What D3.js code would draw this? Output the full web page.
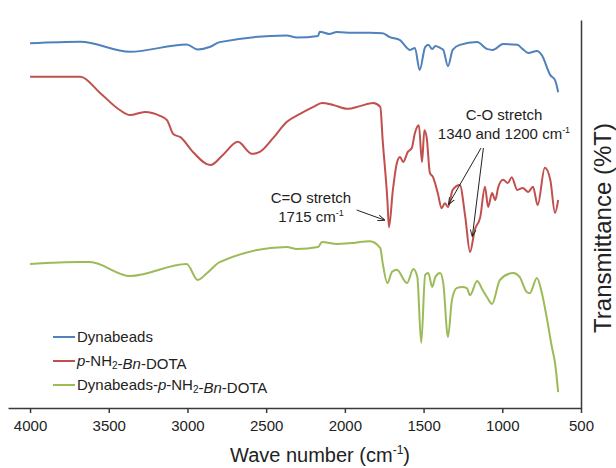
<!DOCTYPE html>
<html>
<head>
<meta charset="utf-8">
<script src="https://cdn.jsdelivr.net/npm/d3@7"></script>
<style>
  body { margin: 0; background: #fff; }
  text { font-family: "Liberation Sans", Arial, sans-serif; fill: #222; }
</style>
</head>
<body>
<script>
// wave number (cm-1) and transmittance (arbitrary %T, traces offset)
let blueWn = [4000, 3680, 3365, 3005, 2935, 2855, 2795, 2370, 2305, 2170, 2160, 2100, 2050, 1950, 1840, 1760, 1715, 1650, 1585, 1555, 1525, 1490, 1470, 1445, 1425, 1395, 1375, 1345, 1315, 1270, 1160, 1095, 1060, 995, 905, 870, 835, 780, 750, 695, 665, 645];
let blueT = [94.0, 94.4, 91.8, 93.7, 92.4, 93.1, 94.3, 96.0, 95.5, 95.9, 97.0, 96.4, 96.9, 96.7, 96.7, 96.6, 95.6, 94.8, 92.3, 92.8, 87.1, 93.0, 93.6, 92.5, 93.3, 92.8, 92.3, 88.1, 92.3, 93.6, 94.3, 92.5, 92.3, 93.8, 93.6, 92.5, 91.5, 92.0, 91.0, 85.8, 84.5, 81.4];

let redWn = [4000, 3680, 3555, 3430, 3365, 3270, 3175, 3130, 3090, 3045, 2965, 2855, 2775, 2680, 2590, 2540, 2455, 2370, 2285, 2200, 2145, 2075, 1980, 1905, 1820, 1775, 1760, 1730, 1720, 1695, 1670, 1650, 1630, 1600, 1575, 1555, 1530, 1510, 1495, 1480, 1460, 1440, 1410, 1385, 1365, 1345, 1315, 1270, 1235, 1205, 1175, 1140, 1110, 1090, 1065, 1045, 1025, 995, 965, 940, 905, 870, 835, 805, 775, 730, 695, 665, 645];
let redT = [85.4, 85.4, 81.2, 76.8, 75.5, 76.3, 75.3, 74.2, 70.6, 69.8, 66.0, 62.6, 65.2, 68.6, 65.5, 66.0, 69.6, 73.7, 75.8, 77.6, 78.6, 78.1, 77.1, 77.8, 78.6, 77.6, 69.1, 53.6, 46.6, 56.2, 63.1, 64.7, 63.4, 66.0, 67.0, 70.9, 72.9, 63.4, 71.6, 69.6, 60.6, 59.5, 55.4, 51.5, 52.8, 51.8, 56.2, 57.5, 49.2, 40.2, 45.9, 49.2, 57.0, 51.8, 55.4, 53.6, 57.0, 58.8, 58.0, 59.5, 56.2, 56.7, 55.7, 57.0, 52.3, 61.9, 58.8, 50.3, 53.6];

let greenWn = [4000, 3680, 3620, 3365, 3005, 2935, 2875, 2795, 2370, 2305, 2170, 2145, 2050, 1950, 1905, 1840, 1775, 1760, 1730, 1700, 1670, 1605, 1565, 1540, 1515, 1490, 1470, 1445, 1425, 1395, 1375, 1345, 1320, 1290, 1255, 1225, 1205, 1160, 1125, 1095, 1065, 1015, 930, 890, 845, 825, 780, 750, 715, 685, 665, 645];
let greenT = [37.1, 37.6, 37.6, 34.0, 37.1, 33.0, 34.8, 37.6, 41.5, 41.0, 41.5, 42.8, 42.3, 42.5, 42.8, 43.0, 41.2, 37.4, 32.2, 35.1, 35.6, 32.2, 35.8, 33.8, 16.8, 34.3, 34.8, 31.2, 33.8, 34.8, 32.2, 18.3, 27.8, 30.9, 31.2, 30.9, 29.1, 32.7, 30.4, 28.4, 26.8, 33.0, 34.8, 33.8, 29.9, 29.6, 33.5, 29.9, 22.7, 15.7, 11.6, 4.1];

let xTicks = [4000, 3500, 3000, 2500, 2000, 1500, 1000, 500];

let seriesNames = ['Dynabeads', 'p-NH2-Bn-DOTA', 'Dynabeads-p-NH2-Bn-DOTA'];
let colors = ['#4f81bd', '#c0504d', '#9bbb59'];

let width = 616, height = 468;
let svg = d3.select('body').append('svg')
    .attr('width', width)
    .attr('height', height);

let x = d3.scaleLinear().domain([4140, 500]).range([8, 581]);
let y = d3.scaleLinear().domain([0, 100]).range([408, 20]);

let series = [
    blueWn.map((w, i) => [w, blueT[i]]),
    redWn.map((w, i) => [w, redT[i]]),
    greenWn.map((w, i) => [w, greenT[i]])
];

let line = d3.line()
    .x(d => x(d[0]))
    .y(d => y(d[1]))
    .curve(d3.curveMonotoneX);

svg.selectAll('.trace').data(series).enter().append('path')
    .attr('class', 'trace')
    .attr('d', d => line(d.slice().reverse()))
    .attr('fill', 'none')
    .attr('stroke', (d, i) => colors[i])
    .attr('stroke-width', 2)
    .attr('stroke-linejoin', 'round');

// axes
let xAxis = svg.append('g')
    .attr('transform', 'translate(0,' + y(0) + ')')
    .call(d3.axisBottom(x).tickValues(xTicks).tickFormat(d3.format('d'))
        .tickSize(5).tickSizeOuter(0).tickPadding(7));
xAxis.select('.domain').attr('stroke', '#3a3a3a').attr('stroke-width', 1.5);
xAxis.selectAll('.tick line').attr('stroke', '#3a3a3a').attr('stroke-width', 1.5);
xAxis.selectAll('.tick text')
    .style('font-family', '"Liberation Sans", Arial, sans-serif')
    .style('font-size', '15px')
    .attr('fill', '#222');

let yAxis = svg.append('g')
    .attr('transform', 'translate(' + x(500) + ',0)')
    .call(d3.axisRight(y).tickValues([]).tickSizeOuter(0));
yAxis.select('.domain').attr('stroke', '#3a3a3a').attr('stroke-width', 1.5);

// axis titles
let xTitle = svg.append('text')
    .attr('x', 320).attr('y', 462)
    .attr('text-anchor', 'middle')
    .style('font-size', '20px');
xTitle.append('tspan').text('Wave number (cm');
xTitle.append('tspan').text('-1').attr('dy', -8).style('font-size', '12px');
xTitle.append('tspan').text(')').attr('dy', 8);

svg.append('text')
    .attr('transform', 'translate(611,228) rotate(-90)')
    .attr('text-anchor', 'middle')
    .style('font-size', '24px')
    .text('Transmittance (%T)');

// legend
let legend = svg.append('g').attr('transform', 'translate(53,337)');
let legRows = legend.selectAll('.leg').data(seriesNames).enter().append('g')
    .attr('transform', (d, i) => 'translate(0,' + i * 24 + ')');
legRows.append('line')
    .attr('x1', 0).attr('x2', 22)
    .attr('stroke', (d, i) => colors[i])
    .attr('stroke-width', 2);
legRows.each(function(d) {
    let t = d3.select(this).append('text')
        .attr('x', 24).attr('y', 5)
        .style('font-size', '15px');
    let parts = d.split(/(p-|NH2|Bn)/).filter(s => s);
    parts.forEach(p => {
        if (p === 'p-') {
            t.append('tspan').text('p').style('font-style', 'italic');
            t.append('tspan').text('-');
        } else if (p === 'Bn') {
            t.append('tspan').text('Bn').style('font-style', 'italic');
        } else if (p === 'NH2') {
            t.append('tspan').text('NH');
            t.append('tspan').text('2').attr('dy', 3).style('font-size', '10px');
            t.append('tspan').text('').attr('dy', -3);
        } else {
            t.append('tspan').text(p);
        }
    });
});

// annotations
let defs = svg.append('defs');
defs.append('marker')
    .attr('id', 'arr')
    .attr('viewBox', '0 0 10 10')
    .attr('refX', 9).attr('refY', 5)
    .attr('markerWidth', 7).attr('markerHeight', 7)
    .attr('orient', 'auto')
    .append('path')
    .attr('d', 'M0,1 L10,5 L0,9')
    .attr('fill', 'none')
    .attr('stroke', '#222')
    .attr('stroke-width', 1.3);

function note(lines, cx, cy) {
    let t = svg.append('text').attr('text-anchor', 'middle').style('font-size', '15px');
    lines.forEach((l, i) => {
        let ts = t.append('tspan').attr('x', cx).attr('y', cy + i * 19);
        if (l.endsWith('cm-1')) {
            ts.text(l.replace('cm-1', 'cm'));
            t.append('tspan').text('-1').attr('dy', -6).style('font-size', '9px');
        } else {
            ts.text(l);
        }
    });
}
note(['C=O stretch', '1715 cm-1'], 311, 203);
note(['C-O stretch', '1340 and 1200 cm-1'], 504, 120);

function arrow(x1, y1, x2, y2) {
    svg.append('line')
        .attr('x1', x1).attr('y1', y1).attr('x2', x2).attr('y2', y2)
        .attr('stroke', '#222').attr('stroke-width', 1)
        .attr('marker-end', 'url(#arr)');
}
arrow(x(1925), 210, x(1750), 220);
arrow(x(1135), 148, x(1340), 204);
arrow(x(1120), 148, x(1190), 236);
</script>
</body>
</html>
